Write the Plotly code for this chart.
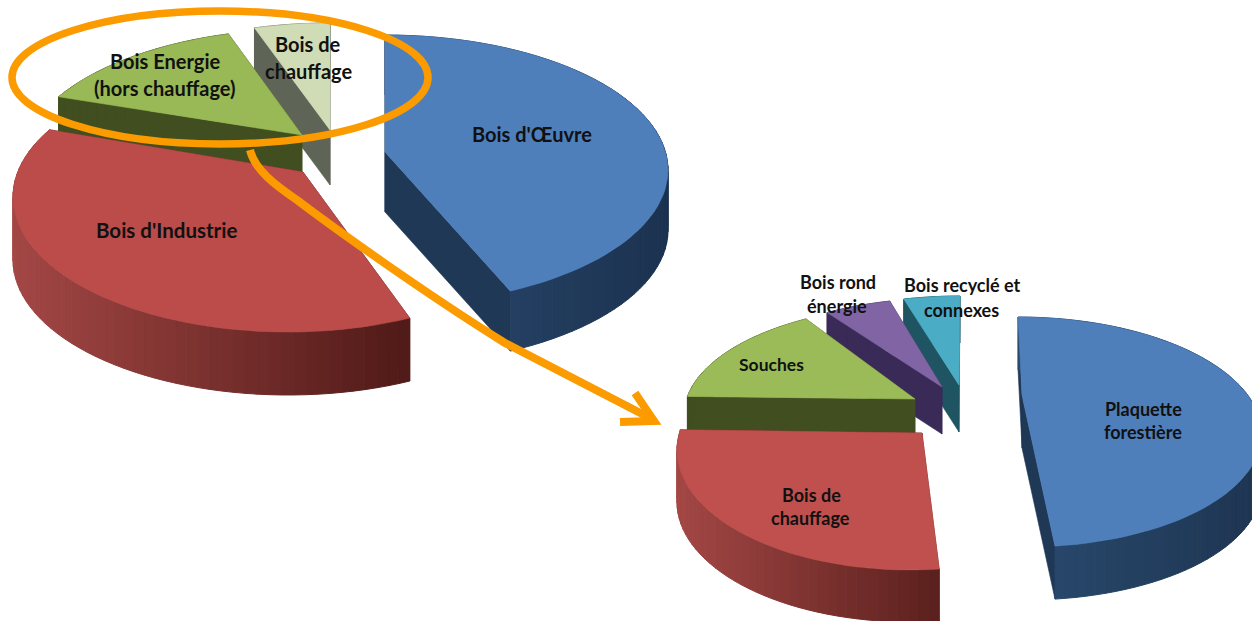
import math
import plotly.graph_objects as go

# ---- data (percent shares, clockwise from the top) ----
left_names = ["Bois d'Œuvre", "Bois d'Industrie", "Bois Energie (hors chauffage)", "Bois de chauffage"]
left_values = [42.7, 40.6, 12.4, 4.3]
right_names = ["Plaquette forestière", "Bois de chauffage", "Souches", "Bois rond énergie", "Bois recyclé et connexes"]
right_values = [48.0, 29.7, 14.2, 4.4, 3.7]

# ---- styling: exploded geometry of each slice in page pixels ----
# cx, cy, a, b = ellipse; ax, ay = apex; d = wall depth; k = skew of the ellipse
left_geo = [
    dict(cx=385, cy=170, a=283, b=135, ax=385, ay=152, d=60, k=0),
    dict(cx=288, cy=197, a=275, b=135, ax=303, ay=172, d=63, k=0),
    dict(cx=304, cy=164, a=283, b=135, ax=302, ay=135, d=60, k=0),
    dict(cx=330, cy=158, a=283, b=135, ax=330, ay=130, d=55, k=0),
]
right_geo = [
    dict(cx=1021.5, cy=432, a=240, b=115, ax=1022, ay=395, d=53, k=0.03),
    dict(cx=910, cy=450, a=233, b=120, ax=922, ay=433, d=52, k=0),
    dict(cx=922, cy=415, a=238, b=110, ax=915, ay=399, d=34, k=0),
    dict(cx=946, cy=413, a=244, b=115, ax=942, ay=387, d=47, k=0),
    dict(cx=960, cy=411, a=244, b=115, ax=959, ay=385, d=47, k=0),
]
left_style = [
    dict(top="#4f7fbb", w0="#2a4a70", w1="#1c3250", rad="#1f3856"),
    dict(top="#bb4c4a", w0="#a34745", w1="#4f1a17", rad="#5a201d"),
    dict(top="#98b955", w0="#404e20", w1="#404e20", rad="#404e20"),
    dict(top="#d0dcb6", w0="#5f6556", w1="#5f6556", rad="#5f6556"),
]
right_style = [
    dict(top="#4f7fbb", w0="#294a6e", w1="#1e3552", rad="#1f3856"),
    dict(top="#bf504d", w0="#a34745", w1="#5a201d", rad="#5a201d"),
    dict(top="#9bbb59", w0="#404e20", w1="#404e20", rad="#404e20"),
    dict(top="#8064a4", w0="#3a2a57", w1="#3a2a57", rad="#3a2a57"),
    dict(top="#4bacc6", w0="#1f5563", w1="#1f5563", rad="#1f5563"),
]
LEFT_ORDER = [3, 2, 0, 1]
RIGHT_ORDER = [4, 3, 2, 0, 1]

ORANGE = "#fb9b00"
TEXT = "#111111"
FONT = "Lato"


def hex2rgb(h):
    return tuple(int(h[i:i + 2], 16) for i in (1, 3, 5))


def mix(c0, c1, f):
    a, b = hex2rgb(c0), hex2rgb(c1)
    return "rgb(%d,%d,%d)" % tuple(round(a[i] + (b[i] - a[i]) * f) for i in range(3))


fig = go.Figure()


def poly(xs, ys, color, name, line=0.6):
    fig.add_trace(go.Scatter(
        x=list(xs) + [xs[0]], y=list(ys) + [ys[0]], mode="lines", fill="toself",
        fillcolor=color, line=dict(color=color, width=line), name=name,
        hoverinfo="name", showlegend=False))


def draw_pie(names, values, geo, style, order):
    total = sum(values)
    starts, t = [], 90.0
    for v in values:
        starts.append(t)
        t -= v / total * 360.0
    for i in order:
        g, s = geo[i], style[i]
        span = values[i] / total * 360.0
        n = max(6, int(span / 2.5))
        angs = [math.radians(starts[i] - span * k / n) for k in range(n + 1)]
        ry = [g["cy"] - g["b"] * math.sin(u) for u in angs]
        rx = [g["cx"] + g["a"] * math.cos(u) + g["k"] * (y - g["cy"]) for u, y in zip(angs, ry)]
        d = g["d"]
        # radial faces
        for j in (0, -1):
            poly([g["ax"], rx[j], rx[j], g["ax"]],
                 [g["ay"], ry[j], ry[j] + d, g["ay"] + d], s["rad"], names[i])
        # outer wall, shaded from left to right across the slice
        xmin, xmax = min(rx), max(rx)
        for k in range(n):
            f = ((rx[k] + rx[k + 1]) / 2 - xmin) / (xmax - xmin)
            poly([rx[k], rx[k + 1], rx[k + 1], rx[k]],
                 [ry[k], ry[k + 1], ry[k + 1] + d, ry[k] + d],
                 mix(s["w0"], s["w1"], f), names[i], 1)
        # top face
        poly([g["ax"]] + rx, [g["ay"]] + ry, s["top"], names[i])


draw_pie(left_names, left_values, left_geo, left_style, LEFT_ORDER)
draw_pie(right_names, right_values, right_geo, right_style, RIGHT_ORDER)

# ---- labels, one annotation per line ----
label_lines = [
    ("Bois Energie", 165, 61, 20), ("(hors chauffage)", 165, 88, 20),
    ("Bois de", 308, 44, 20), ("chauffage", 309, 71, 20),
    ("Bois d'Œuvre", 532, 134, 20), ("Bois d'Industrie", 166, 230, 20.5),
    ("Bois rond", 838, 282, 18), ("énergie", 837, 306, 18),
    ("Bois recyclé et", 962, 285, 18), ("connexes", 961, 310, 18),
    ("Souches", 771, 364, 17.5),
    ("Plaquette", 1143, 409, 18), ("forestière", 1143, 432, 18),
    ("Bois de", 811, 495, 18), ("chauffage", 810, 518, 18),
]
annotations = [
    dict(x=x, y=y, text=t, showarrow=False, xanchor="center", yanchor="middle",
         font=dict(family=FONT, size=sz, color=TEXT, weight="bold"))
    for t, x, y, sz in label_lines
]

shapes = [
    dict(type="circle", x0=12, x1=428, y0=11, y1=144, line=dict(color=ORANGE, width=7.5), layer="above"),
    dict(type="path", path="M250,150 C255,170 275,185 297,200 C330,225 420,290 505,343 L650,418",
         line=dict(color=ORANGE, width=8), layer="above"),
    dict(type="path", path="M635,393 L654,421 L620,422",
         line=dict(color=ORANGE, width=8), layer="above"),
]

fig.update_layout(
    width=1252, height=621, margin=dict(l=0, r=0, t=0, b=0),
    paper_bgcolor="white", plot_bgcolor="white", showlegend=False,
    xaxis=dict(range=[0, 1252], visible=False, fixedrange=True),
    yaxis=dict(range=[621, 0], visible=False, fixedrange=True),
    annotations=annotations, shapes=shapes,
)

fig.write_html("out.html", config=dict(displayModeBar=False),
               post_script="document.body.style.margin='0';document.body.style.overflow='hidden';")
